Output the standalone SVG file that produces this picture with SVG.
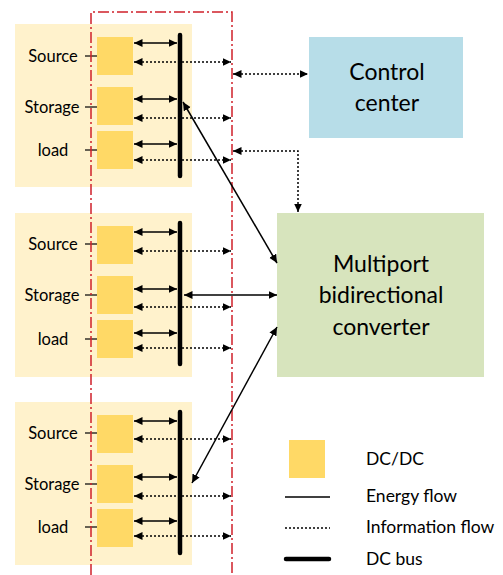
<svg xmlns="http://www.w3.org/2000/svg" width="503" height="575" viewBox="0 0 503 575">
  <style>
    .panel { fill: #fff2cc; }
    .dcdc { fill: #ffd966; }
    .bus { stroke: #000; stroke-width: 4.5; stroke-linecap: round; fill: none; }
    .energy { stroke: #000; stroke-width: 1.5; fill: none; }
    .info { stroke: #000; stroke-width: 1.5; stroke-dasharray: 2 2; fill: none; }
    .tick { stroke: #000; stroke-width: 1.2; }
    .boundary { stroke: #d0202a; stroke-width: 1.5; stroke-dasharray: 11 3 2 3; fill: none; }
    .lbl { font-family: Lato, "Open Sans", sans-serif; font-size: 16.5px; fill: #000; text-anchor: middle; }
    .big { font-family: Lato, "Open Sans", sans-serif; font-size: 23px; fill: #000; text-anchor: middle; }
    .leg { font-family: Lato, "Open Sans", sans-serif; font-size: 17.5px; fill: #000; }
  </style>
  <defs>
    <marker id="arrow" markerUnits="userSpaceOnUse" markerWidth="10" markerHeight="9" refX="8.5" refY="4" orient="auto-start-reverse">
      <path d="M0,0 L8.5,4 L0,8 z" fill="#000"/>
    </marker>
  </defs>

  <rect width="503" height="575" fill="#fff"/>

  <!-- Module 1 -->
  <g id="module1">
    <rect class="panel" x="15" y="24" width="177" height="163"/>
    <rect class="dcdc" x="97" y="37" width="36" height="38"/>
    <rect class="dcdc" x="97" y="87" width="36" height="38"/>
    <rect class="dcdc" x="97" y="131" width="36" height="38"/>
    <line class="tick" x1="85" y1="56" x2="97" y2="56"/>
    <line class="tick" x1="85" y1="107" x2="97" y2="107"/>
    <line class="tick" x1="85" y1="150" x2="97" y2="150"/>
    <text class="lbl" x="53" y="62">Source</text>
    <text class="lbl" x="52" y="113">Storage</text>
    <text class="lbl" x="53" y="156">load</text>
    <line class="bus" x1="180" y1="35" x2="180" y2="176"/>
  </g>

  <!-- Module 2 -->
  <g id="module2">
    <rect class="panel" x="15" y="213" width="177" height="164"/>
    <rect class="dcdc" x="97" y="226" width="36" height="38"/>
    <rect class="dcdc" x="97" y="276" width="36" height="38"/>
    <rect class="dcdc" x="97" y="320" width="36" height="38"/>
    <line class="tick" x1="85" y1="244" x2="97" y2="244"/>
    <line class="tick" x1="85" y1="295" x2="97" y2="295"/>
    <line class="tick" x1="85" y1="339" x2="97" y2="339"/>
    <text class="lbl" x="53" y="250">Source</text>
    <text class="lbl" x="52" y="301">Storage</text>
    <text class="lbl" x="53" y="345">load</text>
    <line class="bus" x1="180" y1="223" x2="180" y2="364"/>
  </g>

  <!-- Module 3 -->
  <g id="module3">
    <rect class="panel" x="15" y="402" width="177" height="163"/>
    <rect class="dcdc" x="97" y="415" width="36" height="38"/>
    <rect class="dcdc" x="97" y="465" width="36" height="38"/>
    <rect class="dcdc" x="97" y="509" width="36" height="38"/>
    <line class="tick" x1="85" y1="433" x2="97" y2="433"/>
    <line class="tick" x1="85" y1="484" x2="97" y2="484"/>
    <line class="tick" x1="85" y1="527" x2="97" y2="527"/>
    <text class="lbl" x="53" y="439">Source</text>
    <text class="lbl" x="52" y="490">Storage</text>
    <text class="lbl" x="53" y="533">load</text>
    <line class="bus" x1="180" y1="412" x2="180" y2="553"/>
  </g>

  <!-- Local controller boundary -->
  <path id="boundary" class="boundary" d="M91,575 V12 H232 V575"/>

  <!-- Control center -->
  <g id="control-center">
    <rect x="309" y="37" width="154" height="101" fill="#b7dde8"/>
    <text class="big" x="387" y="80">Control</text>
    <text class="big" x="387" y="111">center</text>
  </g>

  <!-- Multiport bidirectional converter -->
  <g id="converter">
    <rect x="277" y="213" width="207" height="164" fill="#d7e4bd"/>
    <text class="big" x="381" y="272">Multiport</text>
    <text class="big" x="381" y="303">bidirectional</text>
    <text class="big" x="381" y="335">converter</text>
  </g>

  <!-- Connectors -->
  <g id="connectors">
    <!-- energy flow: DC/DC to bus -->
    <line class="energy" x1="134" y1="43" x2="177" y2="43" marker-start="url(#arrow)" marker-end="url(#arrow)"/>
    <line class="energy" x1="134" y1="99" x2="177" y2="99" marker-start="url(#arrow)" marker-end="url(#arrow)"/>
    <line class="energy" x1="134" y1="144" x2="177" y2="144" marker-start="url(#arrow)" marker-end="url(#arrow)"/>
    <line class="energy" x1="134" y1="232" x2="177" y2="232" marker-start="url(#arrow)" marker-end="url(#arrow)"/>
    <line class="energy" x1="134" y1="289" x2="177" y2="289" marker-start="url(#arrow)" marker-end="url(#arrow)"/>
    <line class="energy" x1="134" y1="333" x2="177" y2="333" marker-start="url(#arrow)" marker-end="url(#arrow)"/>
    <line class="energy" x1="134" y1="421" x2="177" y2="421" marker-start="url(#arrow)" marker-end="url(#arrow)"/>
    <line class="energy" x1="134" y1="477" x2="177" y2="477" marker-start="url(#arrow)" marker-end="url(#arrow)"/>
    <line class="energy" x1="134" y1="521" x2="177" y2="521" marker-start="url(#arrow)" marker-end="url(#arrow)"/>

    <!-- information flow: DC/DC to boundary -->
    <line class="info" x1="134" y1="62" x2="231" y2="62" marker-start="url(#arrow)" marker-end="url(#arrow)"/>
    <line class="info" x1="134" y1="118" x2="231" y2="118" marker-start="url(#arrow)" marker-end="url(#arrow)"/>
    <line class="info" x1="134" y1="160" x2="231" y2="160" marker-start="url(#arrow)" marker-end="url(#arrow)"/>
    <line class="info" x1="134" y1="251" x2="231" y2="251" marker-start="url(#arrow)" marker-end="url(#arrow)"/>
    <line class="info" x1="134" y1="307" x2="231" y2="307" marker-start="url(#arrow)" marker-end="url(#arrow)"/>
    <line class="info" x1="134" y1="348" x2="231" y2="348" marker-start="url(#arrow)" marker-end="url(#arrow)"/>
    <line class="info" x1="134" y1="439" x2="231" y2="439" marker-start="url(#arrow)" marker-end="url(#arrow)"/>
    <line class="info" x1="134" y1="496" x2="231" y2="496" marker-start="url(#arrow)" marker-end="url(#arrow)"/>
    <line class="info" x1="134" y1="536" x2="231" y2="536" marker-start="url(#arrow)" marker-end="url(#arrow)"/>

    <!-- information flow: boundary to control center and converter -->
    <line class="info" x1="233" y1="74" x2="308" y2="74" marker-start="url(#arrow)" marker-end="url(#arrow)"/>
    <path class="info" d="M233,151 H298 V212" marker-start="url(#arrow)" marker-end="url(#arrow)"/>

    <!-- energy flow: buses to converter -->
    <line class="energy" x1="183" y1="102" x2="277" y2="263" marker-start="url(#arrow)" marker-end="url(#arrow)"/>
    <line class="energy" x1="184" y1="295" x2="277" y2="295" marker-start="url(#arrow)" marker-end="url(#arrow)"/>
    <line class="energy" x1="192" y1="483" x2="277" y2="327" marker-start="url(#arrow)" marker-end="url(#arrow)"/>
  </g>

  <!-- Legend -->
  <g id="legend">
    <rect class="dcdc" x="289" y="440" width="36" height="38"/>
    <text class="leg" x="366" y="465">DC/DC</text>
    <line class="energy" x1="285" y1="497" x2="330" y2="497"/>
    <text class="leg" x="366" y="502">Energy flow</text>
    <line class="info" x1="285" y1="528" x2="330" y2="528" stroke-width="1" stroke-dasharray="1.5 1.5"/>
    <text class="leg" x="366" y="533">Information flow</text>
    <line class="bus" x1="286" y1="559" x2="329" y2="559" stroke-width="4"/>
    <text class="leg" x="366" y="565">DC bus</text>
  </g>
</svg>
